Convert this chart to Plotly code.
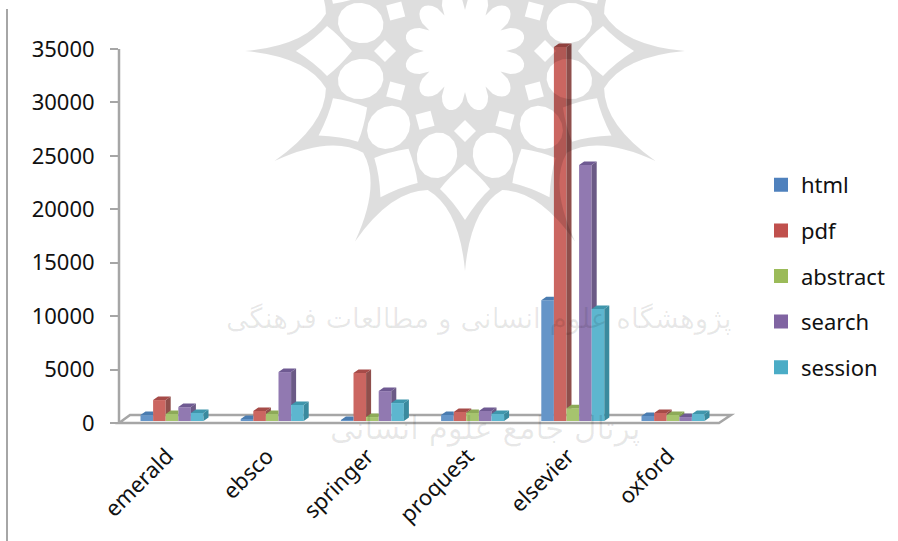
import math
import plotly.graph_objects as go

categories = ["emerald", "ebsco", "springer", "proquest", "elsevier", "oxford"]
series_names = ["html", "pdf", "abstract", "search", "session"]
html = [550, 190, 90, 560, 11300, 470]
pdf = [1960, 935, 4490, 840, 35000, 750]
abstract = [650, 650, 370, 750, 1200, 560]
search = [1300, 4580, 2800, 935, 23950, 370]
session = [750, 1500, 1680, 650, 10480, 650]
y_ticks = [0, 5000, 10000, 15000, 20000, 25000, 30000, 35000]

front_colors = ["#6595C8", "#CB6661", "#A6C46E", "#9179B1", "#5DB6CF"]
side_colors = ["#3F6E9E", "#8F4F4C", "#7D9A4F", "#6B5A86", "#3A8A9E"]
top_colors = ["#4A7CB0", "#A64B48", "#8DAA58", "#6F5A92", "#3F96AC"]
legend_colors = ["#4F81BD", "#C0504D", "#9BBB59", "#8064A2", "#4BACC6"]

all_values = [html, pdf, abstract, search, session]

W, H = 898, 541
L, R, T, B = 119, 898 - 735, 30, 541 - 423
PX_X = 100.2          # pixels per category
PX_Y = 374 / 35000    # pixels per value unit
x_lo = (119 - 172) / PX_X
x_hi = (735 - 172) / PX_X
y_hi = (423 - 30) / PX_Y

bar_w = 12.6 / PX_X
depth_x = 5 / PX_X
depth_y = 3.5 / PX_Y
base = 2 / PX_Y
GRAY = "#A6A6A6"
FONT = "Noto Sans"
FS = 22

fig = go.Figure()
n = len(series_names)
for s, name in enumerate(series_names):
    vals = all_values[s]
    fig.add_trace(go.Bar(
        x=list(range(len(categories))), y=vals, base=[base] * len(vals),
        name=name, width=bar_w, offset=(s - n / 2) * bar_w,
        marker=dict(color=front_colors[s], line=dict(width=0)),
        legendgroup=name, showlegend=False,
    ))
# legend-only entries keep the pure palette of the reference legend
for s, name in enumerate(series_names):
    fig.add_trace(go.Bar(
        x=[None], y=[None], name=name,
        marker=dict(color=legend_colors[s], line=dict(color=legend_colors[s], width=2)),
        legendgroup=name, showlegend=True,
    ))
for s, name in enumerate(series_names):
    vals = all_values[s]
    sx, sy, tx, ty = [], [], [], []
    for c in range(len(categories)):
        xl = c + (s - n / 2) * bar_w
        xr = xl + bar_w
        top = base + vals[c]
        nxt = base + all_values[s + 1][c] if s + 1 < n else None
        if nxt is None:
            sx += [xr, xr, xr + depth_x, xr + depth_x, None]
            sy += [base, top, top + depth_y, base + depth_y, None]
        elif nxt < top:
            sx += [xr, xr, xr + depth_x, xr + depth_x, None]
            sy += [nxt, top, top + depth_y, nxt, None]
        right = xr + depth_x if (nxt is None or nxt < top) else xr
        tx += [xl, xl + depth_x, right, xr, None]
        ty += [top, top + depth_y, top + depth_y, top, None]
    fig.add_trace(go.Scatter(x=sx, y=sy, mode="lines", fill="toself", line=dict(width=0),
                             fillcolor=side_colors[s], showlegend=False, hoverinfo="skip"))
    fig.add_trace(go.Scatter(x=tx, y=ty, mode="lines", fill="toself", line=dict(width=0),
                             fillcolor=top_colors[s], showlegend=False, hoverinfo="skip"))


def paper(px, py):
    return (px - L) / (W - L - R), 1 - (py - T) / (H - T - B)


def rosette(cx, cy):
    def pt(r, deg, tang=0.0):
        a = math.radians(deg)
        x = cx + r * math.cos(a) - tang * math.sin(a)
        y = cy + r * math.sin(a) + tang * math.cos(a)
        return "%.4f,%.4f" % paper(x, y)

    d = []
    # outer contour: twelve thin curved spikes
    d.append("M" + pt(220, 0))
    for k in range(12):
        a = k * 30
        d.append("Q" + pt(158, a + 2) + " " + pt(144, a + 15))
        d.append("Q" + pt(158, a + 28) + " " + pt(220, a + 30))
    d.append("Z")
    for k in range(12):
        a = k * 30
        # kite holes on the spike axes
        d.append("M" + pt(113, a) + "Q" + pt(126, a, 16) + " " + pt(138, a, 25)
                 + "Q" + pt(150, a, 12) + " " + pt(169, a)
                 + "Q" + pt(150, a, -12) + " " + pt(138, a, -25)
                 + "Q" + pt(126, a, -16) + " " + pt(113, a) + "Z")
        # rounded cells between the spikes
        pts = [pt(108 + 23 * math.cos(math.radians(t)), a + 15, 20 * math.sin(math.radians(t)))
               for t in range(0, 360, 20)]
        d.append("M" + "L".join(pts) + "Z")
        # small diamonds
        d.append("M" + pt(69, a) + "L" + pt(80, a, 11) + "L" + pt(91, a) + "L" + pt(80, a, -11) + "Z")
    # white centre flower
    pts = []
    for t in range(0, 360, 3):
        r = 41 + 20 * abs(math.sin(math.radians(6 * t))) ** 0.6
        pts.append(pt(r, t))
    d.append("M" + "L".join(pts) + "Z")
    return "".join(d)


def floor_path():
    corners = [paper(119, 423), paper(719, 423), paper(731, 415), paper(130, 415)]
    return "M" + "L".join("%.4f,%.4f" % c for c in corners) + "Z"


shapes = [
    # floor of the 3D box
    dict(type="path", xref="paper", yref="paper", layer="below", path=floor_path(),
         line=dict(color=GRAY, width=2.5), fillcolor="rgba(0,0,0,0)"),
    # value axis line
    dict(type="line", xref="paper", yref="paper", layer="below",
         x0=paper(119, 0)[0], x1=paper(119, 0)[0], y0=paper(0, 423)[1], y1=paper(0, 49)[1],
         line=dict(color=GRAY, width=2.5)),
    # page rule on the left
    dict(type="line", xref="paper", yref="paper", layer="above",
         x0=paper(7, 0)[0], x1=paper(7, 0)[0], y0=paper(0, 9)[1], y1=paper(0, 541)[1],
         line=dict(color=GRAY, width=2)),
    # faint watermark laid over the chart
    dict(type="path", xref="paper", yref="paper", layer="above", path=rosette(465, 51),
         fillcolor="rgba(0,0,0,0.13)", line=dict(width=0)),
]

annotations = [
    dict(text="پژوهشگاه علوم انسانی و مطالعات فرهنگی", xref="paper", yref="paper",
         x=paper(478, 0)[0], y=paper(0, 318)[1], xanchor="center", yanchor="middle", showarrow=False,
         font=dict(family="DejaVu Sans", size=28, color="rgba(0,0,0,0.09)")),
    dict(text="پرتال جامع علوم انسانی", xref="paper", yref="paper",
         x=paper(485, 0)[0], y=paper(0, 428)[1], xanchor="center", yanchor="middle", showarrow=False,
         font=dict(family="DejaVu Sans", size=31, color="rgba(0,0,0,0.09)")),
]

fig.update_layout(
    width=W, height=H, autosize=False,
    margin=dict(l=L, r=R, t=T, b=B, pad=0, autoexpand=False),
    paper_bgcolor="white", plot_bgcolor="rgba(0,0,0,0)",
    barmode="overlay",
    font=dict(family=FONT, size=FS, color="#111111"),
    shapes=shapes, annotations=annotations,
    legend=dict(x=paper(761, 0)[0], y=paper(0, 164)[1], xanchor="left", yanchor="top",
                tracegroupgap=14, font=dict(family=FONT, size=FS), bgcolor="rgba(0,0,0,0)",
                itemclick=False, itemdoubleclick=False),
    xaxis=dict(range=[x_lo, x_hi], tickmode="array", tickvals=list(range(len(categories))),
               ticktext=categories, tickangle=-45, showgrid=False, zeroline=False,
               showline=False, ticks="", ticklabelstandoff=15, ticklabelshift=-5,
               tickfont=dict(family=FONT, size=FS)),
    yaxis=dict(range=[0, y_hi], tickmode="array", tickvals=y_ticks,
               ticktext=[str(v) for v in y_ticks], showgrid=False, zeroline=False,
               showline=False, ticks="outside", ticklen=8, tickwidth=2, tickcolor=GRAY,
               ticklabelstandoff=11, tickfont=dict(family=FONT, size=FS)),
)

fig.write_html("out.html", config={"displayModeBar": False},
               post_script="document.body.style.margin='0';document.body.style.overflow='hidden';")
